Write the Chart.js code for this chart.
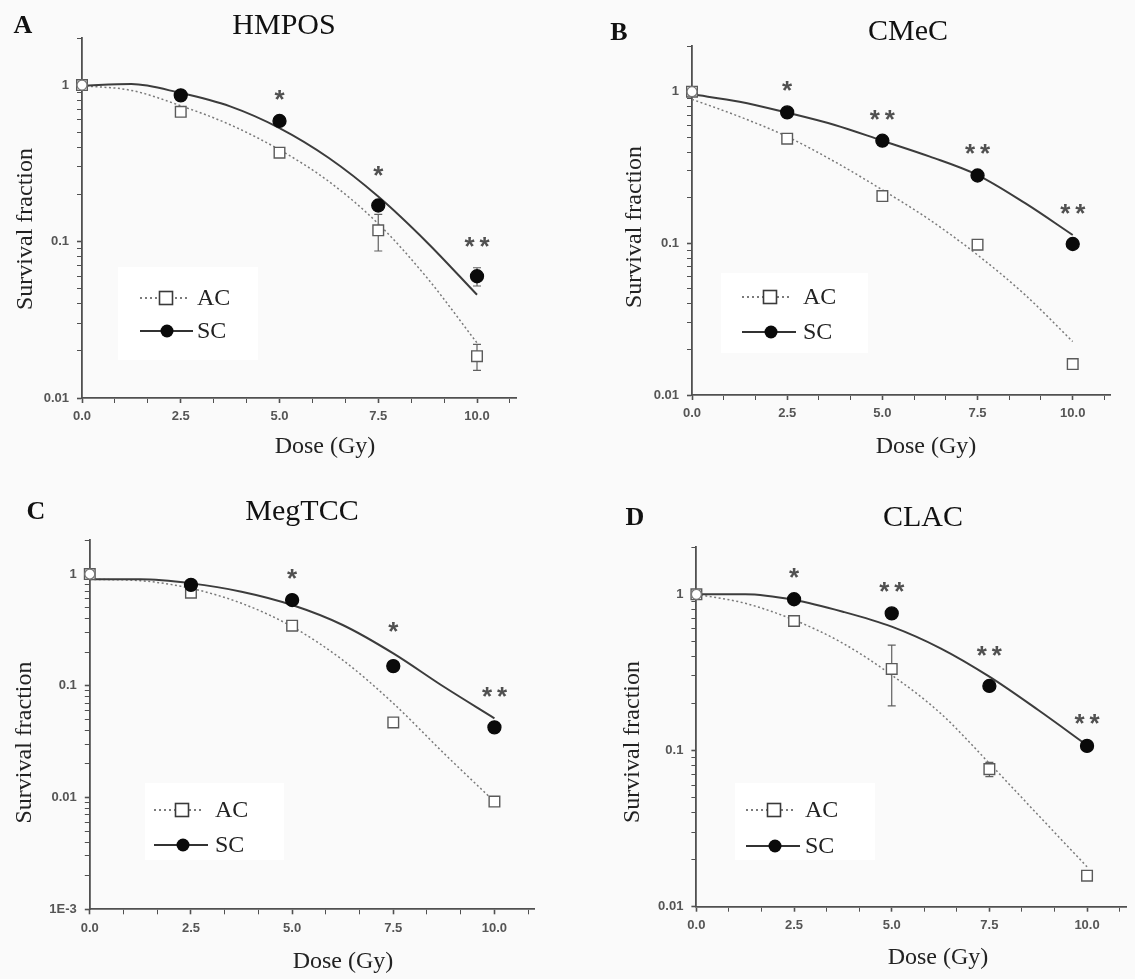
<!DOCTYPE html>
<html>
<head>
<meta charset="utf-8">
<title>Survival fraction vs dose</title>
<script src="https://cdn.jsdelivr.net/npm/chart.js@4.4.1/dist/chart.umd.min.js"></script>
<style>
  html, body { margin: 0; padding: 0; background: #fafafa; }
  body { width: 1135px; height: 979px; position: relative; overflow: hidden; }
  canvas { position: absolute; }
</style>
</head>
<body>
<canvas id="chartA" width="567" height="485" style="left:0;top:0"></canvas>
<canvas id="chartB" width="568" height="485" style="left:567px;top:0"></canvas>
<canvas id="chartC" width="567" height="494" style="left:0;top:485px"></canvas>
<canvas id="chartD" width="568" height="494" style="left:567px;top:485px"></canvas>
<script>
// measured doses and the doses where the fitted curves are sampled
const doses = [0, 2.5, 5, 7.5, 10];
const fitDoses = [0, 1.25, 2.5, 3.75, 5, 6.25, 7.5, 8.75, 10];
const xTickLabels = ['0.0', '2.5', '5.0', '7.5', '10.0'];
const yTickValues = [1, 0.1, 0.01, 0.001];
const yTickLabels = ['1', '0.1', '0.01', '1E-3'];
const seriesNames = ['AC', 'SC'];
const cellLines = ['HMPOS', 'CMeC', 'MegTCC', 'CLAC'];
const panelLetters = ['A', 'B', 'C', 'D'];

// HMPOS
const acA = [1.0, 0.675, 0.37, 0.118, 0.0185];
const acErrA = [0, 0, 0, 0.031, 0.0035];
const scA = [1.0, 0.86, 0.59, 0.17, 0.06];
const scErrA = [0, 0, 0, 0, 0.008];
const acFitA = [0.99, 0.925, 0.738, 0.558, 0.386, 0.242, 0.13, 0.058, 0.0225];
const scFitA = [0.99, 1.015, 0.889, 0.731, 0.531, 0.342, 0.194, 0.098, 0.0457];
const sigA = [0, 0, 1, 1, 2];

// CMeC
const acB = [1.0, 0.49, 0.205, 0.098, 0.016];
const acErrB = [0, 0, 0, 0, 0];
const scB = [1.0, 0.73, 0.475, 0.28, 0.099];
const scErrB = [0, 0, 0, 0, 0];
const acFitB = [0.89, 0.684, 0.505, 0.345, 0.225, 0.1425, 0.0838, 0.0457, 0.0225];
const scFitB = [0.96, 0.859, 0.727, 0.603, 0.475, 0.373, 0.282, 0.184, 0.1135];
const sigB = [0, 1, 2, 2, 2];

// MegTCC
const acC = [1.0, 0.68, 0.345, 0.047, 0.0092];
const acErrC = [0, 0, 0, 0, 0];
const scC = [1.0, 0.8, 0.585, 0.15, 0.0425];
const scErrC = [0, 0, 0, 0, 0];
const acFitC = [0.896, 0.872, 0.744, 0.547, 0.338, 0.17, 0.0697, 0.0249, 0.0092];
const scFitC = [0.896, 0.896, 0.825, 0.695, 0.528, 0.35, 0.195, 0.098, 0.0512];
const sigC = [0, 0, 1, 1, 2];

// CLAC
const acD = [1.0, 0.675, 0.333, 0.076, 0.0158];
const acErrD = [0, 0, 0.14, 0.008, 0];
const scD = [1.0, 0.93, 0.755, 0.259, 0.107];
const scErrD = [0, 0, 0, 0, 0];
const acFitD = [1.0, 0.876, 0.685, 0.486, 0.304, 0.173, 0.0828, 0.0386, 0.018];
const scFitD = [1.0, 1.0, 0.92, 0.774, 0.621, 0.451, 0.297, 0.1816, 0.108];
const sigD = [0, 1, 2, 2, 2];

// page layout of the four panels (page pixels)
const panels = [
  { canvas: 'chartA', left: 0, top: 0, width: 567, height: 485,
    area: { left: 82, top: 38, right: 516.5, bottom: 398 }, yMin: 0.01,
    letterAt: [23, 26], titleAt: [284, 26], yTitleAt: [26, 229], xTitleAt: [325, 447],
    legendBox: [118, 267, 140, 93], legendRows: [298, 331], legendLine: [140, 193], legendMark: 166, legendText: 197,
    ac: acA, acErr: acErrA, sc: scA, scErr: scErrA, acFit: acFitA, scFit: scFitA, sig: sigA },
  { canvas: 'chartB', left: 567, top: 0, width: 568, height: 485,
    area: { left: 692, top: 46, right: 1110.8, bottom: 395 }, yMin: 0.01,
    letterAt: [619, 33], titleAt: [908, 32], yTitleAt: [634.6, 227], xTitleAt: [926, 447],
    legendBox: [721, 273, 147, 80], legendRows: [297, 332], legendLine: [742, 796], legendMark: 770, legendText: 803,
    ac: acB, acErr: acErrB, sc: scB, scErr: scErrB, acFit: acFitB, scFit: scFitB, sig: sigB },
  { canvas: 'chartC', left: 0, top: 485, width: 567, height: 494,
    area: { left: 89.8, top: 540.4, right: 534.9, bottom: 909.3 }, yMin: 0.001,
    letterAt: [36, 512], titleAt: [302, 512], yTitleAt: [25, 742.5], xTitleAt: [343, 961.7],
    legendBox: [145, 783, 139, 77], legendRows: [810, 845], legendLine: [154, 208], legendMark: 182, legendText: 215,
    ac: acC, acErr: acErrC, sc: scC, scErr: scErrC, acFit: acFitC, scFit: scFitC, sig: sigC },
  { canvas: 'chartD', left: 567, top: 485, width: 568, height: 494,
    area: { left: 696.4, top: 547.3, right: 1128, bottom: 906.7 }, yMin: 0.01,
    letterAt: [635, 518], titleAt: [923, 518], yTitleAt: [633, 742], xTitleAt: [938, 958],
    legendBox: [735, 783, 140, 77], legendRows: [810, 846], legendLine: [746, 800], legendMark: 774, legendText: 805,
    ac: acD, acErr: acErrD, sc: scD, scErr: scErrD, acFit: acFitD, scFit: scFitD, sig: sigD }
];

const axisColor = '#505050';
const tickFont = { family: 'Liberation Sans, Arial, sans-serif', size: 13, weight: 'bold' };
const serif = 'Liberation Serif, "Times New Roman", serif';

// x ticks every 2.5/3 Gy, labelled every 2.5 Gy
const xTicks = [];
for (let i = 0; i <= 13; i++) xTicks.push(i * 2.5 / 3);

function xLabel(v) {
  const k = v / 2.5;
  if (Math.abs(k - Math.round(k)) > 1e-6) return '';
  return xTickLabels[Math.round(k)] || '';
}

function yLabel(v) {
  const i = yTickValues.findIndex(t => Math.abs(v / t - 1) < 1e-6);
  return i < 0 ? '' : yTickLabels[i];
}

function isDecade(v) {
  const e = Math.log10(v);
  return Math.abs(e - Math.round(e)) < 1e-6;
}

function drawStar(ctx, x, y) {
  ctx.fillText('*', x, y + 15);
}

function makeChart(p, n) {
  const ox = p.left, oy = p.top;

  const yTicks = [];
  for (let e = Math.round(Math.log10(p.yMin)); e <= 0; e++) {
    for (let m = 1; m <= 9; m++) {
      const v = +(m * Math.pow(10, e)).toPrecision(6);
      if (v <= 2.0001) yTicks.push(v);
    }
  }

  const decor = {
    id: 'decor',
    beforeDatasetsDraw(chart) {
      const ctx = chart.ctx, xs = chart.scales.x, ys = chart.scales.y;
      ctx.save();
      ctx.strokeStyle = '#606060';
      ctx.lineWidth = 1.2;
      [[p.ac, p.acErr], [p.sc, p.scErr]].forEach(([vals, errs]) => {
        doses.forEach((d, i) => {
          if (!errs[i]) return;
          const x = xs.getPixelForValue(d);
          const y1 = ys.getPixelForValue(vals[i] + errs[i]);
          const y2 = ys.getPixelForValue(vals[i] - errs[i]);
          ctx.beginPath();
          ctx.moveTo(x, y1); ctx.lineTo(x, y2);
          ctx.moveTo(x - 4, y1); ctx.lineTo(x + 4, y1);
          ctx.moveTo(x - 4, y2); ctx.lineTo(x + 4, y2);
          ctx.stroke();
        });
      });
      ctx.restore();
    },
    afterDatasetsDraw(chart) {
      // significance asterisks above the SC points
      const ctx = chart.ctx, xs = chart.scales.x, ys = chart.scales.y;
      ctx.save();
      ctx.fillStyle = '#505050';
      ctx.font = 'bold 26px Liberation Sans, Arial, sans-serif';
      ctx.textAlign = 'center';
      ctx.textBaseline = 'alphabetic';
      doses.forEach((d, i) => {
        const count = p.sig[i];
        if (!count) return;
        const x = xs.getPixelForValue(d);
        const top = Math.min(ys.getPixelForValue(p.sc[i] + p.scErr[i]), ys.getPixelForValue(p.scFit[2 * i]));
        const y = top - 28;
        if (count === 1) drawStar(ctx, x, y);
        else { drawStar(ctx, x - 7.5, y); drawStar(ctx, x + 7.5, y); }
      });
      ctx.restore();
    },
    afterDraw(chart) {
      const ctx = chart.ctx;
      ctx.save();
      ctx.translate(-ox, -oy);

      // legend
      const [bx, by, bw, bh] = p.legendBox;
      ctx.fillStyle = '#ffffff';
      ctx.fillRect(bx, by, bw, bh);
      const [r1, r2] = p.legendRows;
      const [l1, l2] = p.legendLine;
      ctx.strokeStyle = '#505050';
      ctx.lineWidth = 1.6;
      ctx.setLineDash([2, 3]);
      ctx.beginPath(); ctx.moveTo(l1, r1); ctx.lineTo(l2 - 4, r1); ctx.stroke();
      ctx.setLineDash([]);
      ctx.lineWidth = 2;
      ctx.strokeStyle = '#333';
      ctx.beginPath(); ctx.moveTo(l1, r2); ctx.lineTo(l2, r2); ctx.stroke();
      ctx.fillStyle = '#fff';
      ctx.strokeStyle = '#3a3a3a';
      ctx.lineWidth = 1.6;
      ctx.fillRect(p.legendMark - 6.5, r1 - 6.5, 13, 13);
      ctx.strokeRect(p.legendMark - 6.5, r1 - 6.5, 13, 13);
      ctx.fillStyle = '#0a0a0a';
      ctx.beginPath(); ctx.arc(p.legendMark + 1, r2, 6.5, 0, Math.PI * 2); ctx.fill();
      ctx.fillStyle = '#222';
      ctx.font = '24px ' + serif;
      ctx.textAlign = 'left';
      ctx.textBaseline = 'middle';
      ctx.fillText(seriesNames[0], p.legendText, r1 + 1);
      ctx.fillText(seriesNames[1], p.legendText, r2 + 1);

      // panel letter and title
      ctx.fillStyle = '#111';
      ctx.textAlign = 'center';
      ctx.font = 'bold 26px ' + serif;
      ctx.fillText(panelLetters[n], p.letterAt[0], p.letterAt[1]);
      ctx.font = '30px ' + serif;
      ctx.fillText(cellLines[n], p.titleAt[0], p.titleAt[1]);

      // axis titles
      ctx.fillStyle = '#222';
      ctx.font = '24px ' + serif;
      ctx.fillText('Dose (Gy)', p.xTitleAt[0], p.xTitleAt[1]);
      ctx.translate(p.yTitleAt[0], p.yTitleAt[1]);
      ctx.rotate(-Math.PI / 2);
      ctx.fillText('Survival fraction', 0, 0);
      ctx.restore();
    }
  };

  const fitSeries = vals => fitDoses.map((d, i) => ({ x: d, y: vals[i] }));
  const pointSeries = vals => doses.map((d, i) => ({ x: d, y: vals[i] }));

  return new Chart(document.getElementById(p.canvas), {
    type: 'line',
    data: {
      datasets: [
        {
          label: seriesNames[1],
          data: pointSeries(p.sc),
          showLine: false,
          pointStyle: 'circle',
          pointRadius: doses.map(d => (d === 0 ? 5 : 6.5)),
          pointBackgroundColor: doses.map(d => (d === 0 ? '#fff' : '#0a0a0a')),
          pointBorderColor: doses.map(d => (d === 0 ? '#777' : '#0a0a0a')),
          pointBorderWidth: 1.3,
          clip: false
        },
        {
          label: seriesNames[0],
          data: pointSeries(p.ac),
          showLine: false,
          pointStyle: 'rect',
          pointRadius: 7.5,
          pointBackgroundColor: '#fff',
          pointBorderColor: '#5a5a5a',
          pointBorderWidth: 1.4,
          clip: false
        },
        {
          label: seriesNames[1] + ' fit',
          data: fitSeries(p.scFit),
          borderColor: '#3c3c3c',
          borderWidth: 2,
          pointRadius: 0,
          cubicInterpolationMode: 'monotone'
        },
        {
          label: seriesNames[0] + ' fit',
          data: fitSeries(p.acFit),
          borderColor: '#7a7a7a',
          borderWidth: 1.5,
          borderDash: [2, 2.5],
          pointRadius: 0,
          cubicInterpolationMode: 'monotone'
        }
      ]
    },
    options: {
      responsive: false,
      animation: false,
      events: [],
      layout: {
        padding: { top: p.area.top - oy, right: ox + p.width - p.area.right, left: 0, bottom: 0 }
      },
      plugins: { legend: { display: false }, tooltip: { enabled: false } },
      scales: {
        x: {
          type: 'linear',
          min: 0,
          max: 11,
          afterFit: s => { s.height = oy + p.height - p.area.bottom; },
          afterBuildTicks: s => { s.ticks = xTicks.map(v => ({ value: v })); },
          ticks: {
            autoSkip: false, maxRotation: 0, padding: 6,
            font: tickFont, color: '#555',
            callback: v => xLabel(v)
          },
          grid: {
            drawOnChartArea: false, drawTicks: true, tickLength: 5,
            tickColor: axisColor,
            tickWidth: c => (xLabel(c.tick.value) ? 1.6 : 1)
          },
          border: { color: axisColor, width: 1.8 }
        },
        y: {
          type: 'logarithmic',
          min: p.yMin,
          max: 2,
          afterFit: s => { s.width = p.area.left - ox; },
          afterBuildTicks: s => { s.ticks = yTicks.map(v => ({ value: v })); },
          ticks: {
            autoSkip: false, padding: 8,
            font: tickFont, color: '#555',
            callback: v => yLabel(v)
          },
          grid: {
            drawOnChartArea: false, drawTicks: true, tickLength: 5,
            tickColor: axisColor,
            tickWidth: c => (isDecade(c.tick.value) ? 1.6 : 1)
          },
          border: { color: axisColor, width: 1.8 }
        }
      }
    },
    plugins: [decor]
  });
}

panels.forEach((p, n) => makeChart(p, n));
</script>
</body>
</html>
